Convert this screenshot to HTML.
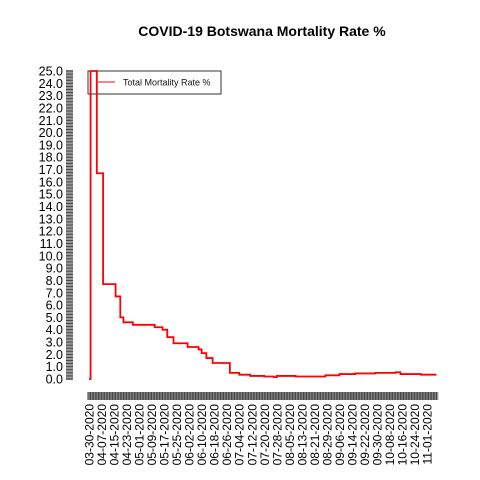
<!DOCTYPE html>
<html><head><meta charset="utf-8"><style>
body{margin:0;background:#fff;}
svg{display:block;font-family:"Liberation Sans",sans-serif;}
</style></head><body>
<svg id="chart" width="480" height="480">
<text x="262" y="36" text-anchor="middle" font-size="14" font-weight="bold">COVID-19 Botswana Mortality Rate %</text>
<g id="yaxis"></g>
<g id="xaxis"></g>
<g>
<rect x="88" y="71" width="133" height="23" fill="#fff" stroke="#333" stroke-width="1"/>
<line x1="98" y1="82" x2="115" y2="82" stroke="#f00" stroke-width="1"/>
<text x="123" y="85.5" font-size="9" fill="#111">Total Mortality Rate %</text>
</g>
<g id="series"></g>
</svg>
<script>
const stepDays = [0,1,5,9,17,20,22,28,42,47,50,54,63,70,72,75,79,90,96,103,112,118,120,132,151,160,170,183,196,199,212,222];
const stepValues = [0,25,16.7,7.7,6.7,5.0,4.6,4.4,4.2,4.0,3.4,2.9,2.6,2.4,2.1,1.7,1.3,0.5,0.35,0.25,0.2,0.15,0.25,0.2,0.3,0.4,0.45,0.5,0.55,0.4,0.35,0.35];
const xTickLabels = ["03-30-2020","04-07-2020","04-15-2020","04-23-2020","05-01-2020","05-09-2020","05-17-2020","05-25-2020","06-02-2020","06-10-2020","06-18-2020","06-26-2020","07-04-2020","07-12-2020","07-20-2020","07-28-2020","08-05-2020","08-13-2020","08-21-2020","08-29-2020","09-06-2020","09-14-2020","09-22-2020","09-30-2020","10-08-2020","10-16-2020","10-24-2020","11-01-2020"];
const yTickValues = [0,1,2,3,4,5,6,7,8,9,10,11,12,13,14,15,16,17,18,19,20,21,22,23,24,25];
const totalDays = 222;

const NS="http://www.w3.org/2000/svg";
const xs = d => 89 + d*1.565;
const ys = v => 379 - v*12.32;
function mk(tag, attrs, parent){const e=document.createElementNS(NS,tag);for(const k in attrs)e.setAttribute(k,attrs[k]);parent.appendChild(e);return e;}

const yg=document.getElementById('yaxis');
const band=mk('rect',{x:66,y:ys(25)-1,width:7,height:ys(0)-ys(25)+2,fill:'#999'},yg);


for(let v=0;v<=25.001;v+=0.25){
  const l=mk('line',{x1:66,x2:73,y1:ys(v),y2:ys(v),stroke:'#333','stroke-width':0.8},yg);
  
  
}
yTickValues.forEach(v=>{
  const t=mk('text',{x:63,y:ys(v)+4.5,'text-anchor':'end','font-size':12.5},yg);
  t.textContent=v.toFixed(1);
  
  
});

const xg=document.getElementById('xaxis');
const xb=mk('rect',{x:xs(0)-2,y:392,width:xs(totalDays)-xs(0)+4,height:8,fill:'#999'},xg);


for(let d=0;d<=totalDays;d++){
  const l=mk('line',{x1:xs(d),x2:xs(d),y1:392,y2:400,stroke:'#333','stroke-width':0.8},xg);
  
  
}
xTickLabels.forEach((s,i)=>{
  const x=xs(i*8)+4.5;
  const t=mk('text',{x:x,y:404,'text-anchor':'end','font-size':12,transform:`rotate(-90 ${x} 404)`},xg);
  t.textContent=s;
  
  
});

const sg=document.getElementById('series');
let d='';
stepDays.forEach((day,i)=>{
  const x=xs(day),y=ys(stepValues[i]);
  if(i===0)d+=`M${x},${y}`;else d+=`H${x}V${y}`;
});
d+=`H${xs(totalDays)}`;
const p=mk('path',{d:d,fill:'none',stroke:'#f00','stroke-width':1.8},sg);


</script>
</body></html>
